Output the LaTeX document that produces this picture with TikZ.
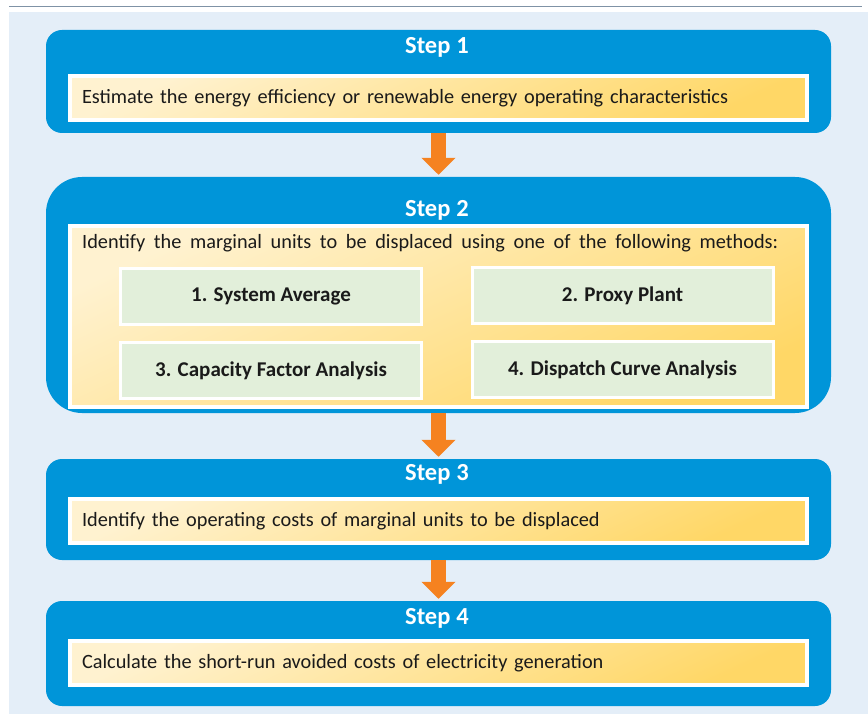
\documentclass[tikz,border=0pt]{standalone}
\usepackage{fontspec}
\setmainfont{Carlito}
\usepackage{tikz}
\usepackage{xcolor}
\usetikzlibrary{arrows.meta}

\definecolor{bgblue}{HTML}{E4EEF8}
\definecolor{stepblue}{HTML}{0095D9}
\definecolor{lightyel}{HTML}{FFF2D0}
\definecolor{darkyel}{HTML}{FFD766}
\definecolor{methgreen}{HTML}{E2EFDA}
\definecolor{flowor}{HTML}{F58220}
\definecolor{rulegray}{HTML}{7F92A6}
\definecolor{txt}{HTML}{1A1A1A}

\newcommand{\bodyfont}{\fontsize{20.3}{24}\selectfont\spaceskip 8.6pt plus 1pt minus 1pt\relax}
\newcommand{\titlefont}{\fontsize{24.5}{28}\selectfont\bfseries\spaceskip 6pt plus 1pt minus 1pt\relax}
\newcommand{\methfont}{\fontsize{21}{24}\selectfont\bfseries}

\tikzset{
  stepbox/.style={fill=stepblue, rounded corners=16pt, minimum width=785pt, inner sep=0pt},
  steptitle/.style={text=white, font=\titlefont},
  taskbox/.style={draw=white, line width=4pt, top color=lightyel, bottom color=darkyel,
    shading angle=25, minimum width=737pt, minimum height=44pt, inner xsep=12pt,
    text width=713pt, align=left, text=txt, font=\bodyfont},
  methbox/.style={draw=white, line width=3pt, fill=methgreen, minimum width=301pt,
    minimum height=56pt, text=txt, font=\methfont},
  flow/.style={draw=flowor, line width=15pt, -{Triangle[width=33pt,length=17pt]}, shorten >=2pt}
}

\begin{document}
\begin{tikzpicture}[x=1pt,y=-1pt]
\useasboundingbox (0,0) rectangle (868,714);
% background
\fill[bgblue] (9,12) rectangle (868,714);
\draw[rulegray, line width=1pt] (9,7) -- (862,7);

% step boxes
\node[stepbox, minimum height=103pt] (s1) at (438.5,81.5) {};
\node[stepbox, minimum height=236pt, rounded corners=36pt] (s2) at (438.5,295) {};
\node[stepbox, minimum height=101pt] (s3) at (438.5,509.5) {};
\node[stepbox, minimum height=105pt] (s4) at (438.5,653.5) {};

\node[steptitle] (t1) at (437,47) {Step 1};
\node[steptitle] (t2) at (437,210) {Step 2};
\node[steptitle] (t3) at (437,474) {Step 3};
\node[steptitle] (t4) at (437,618) {Step 4};

% tasks
\node[taskbox] (k1) at (438.5,98) {Estimate the energy efficiency or renewable energy operating characteristics};
\node[taskbox, minimum height=181pt] (k2) at (438.5,316.5) {};
\node[text=txt, font=\bodyfont, anchor=west, inner sep=0pt] (k2h) at (82,243) {Identify the marginal units to be displaced using one of the following methods:};
\node[taskbox] (k3) at (438.5,521) {Identify the operating costs of marginal units to be displaced};
\node[taskbox] (k4) at (438.5,663) {Calculate the short-run avoided costs of electricity generation};

% methods
\node[methbox] (m1) at (271,296.5) {1. System Average};
\node[methbox] (m2) at (622.5,295.5) {2. Proxy Plant};
\node[methbox] (m3) at (271,370.5) {3. Capacity Factor Analysis};
\node[methbox] (m4) at (622.5,369.5) {4. Dispatch Curve Analysis};

% arrows
\draw[flow] (s1.south) -- (s2.north);
\draw[flow] (s2.south) -- (s3.north);
\draw[flow] (s3.south) -- (s4.north);
\end{tikzpicture}
\end{document}
